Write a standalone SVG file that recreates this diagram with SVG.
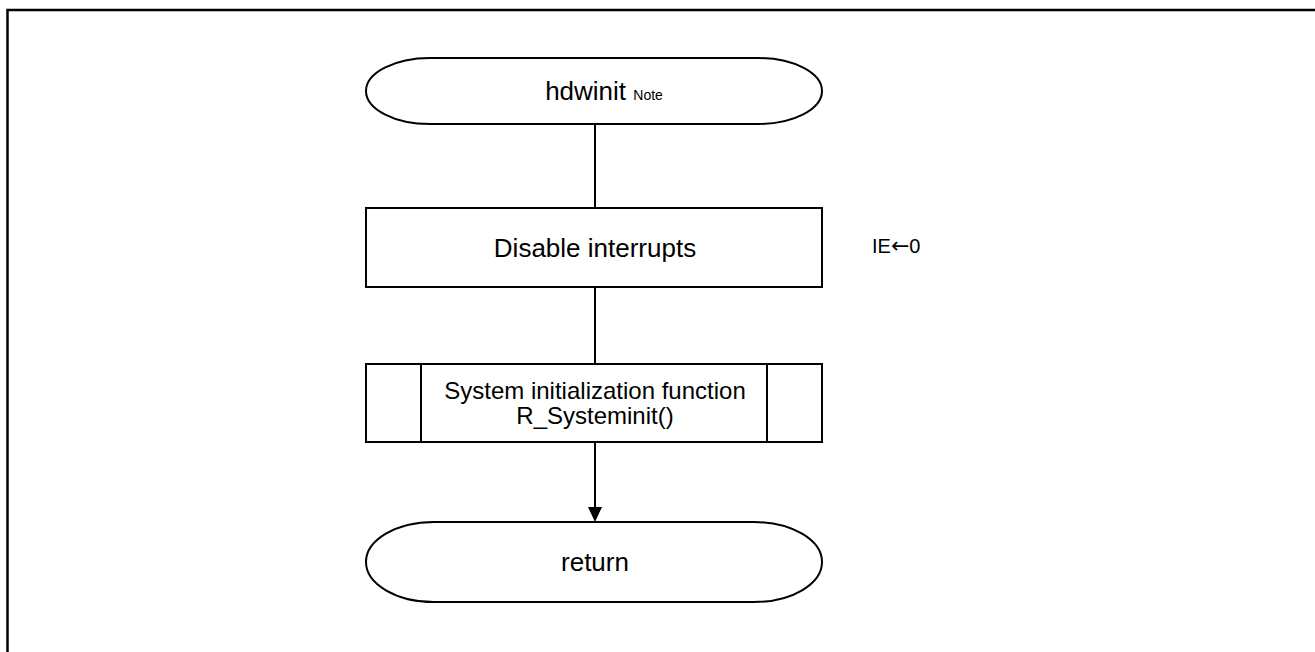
<svg xmlns="http://www.w3.org/2000/svg" width="1315" height="652" viewBox="0 0 1315 652">
<defs>
<style>
.shape{fill:#fff;stroke:#000;stroke-width:2}
.conn{fill:none;stroke:#000;stroke-width:2}
.t{font-family:"Liberation Sans",Arial,sans-serif;fill:#000;text-anchor:middle}
</style>
</defs>
<rect width="1315" height="652" fill="#fff"/>
<path d="M7.5,652 V10 H1315" fill="none" stroke="#000" stroke-width="2.5"/>
<g id="connectors">
<line class="conn" x1="595" y1="124" x2="595" y2="208"/>
<line class="conn" x1="595" y1="287" x2="595" y2="364"/>
<path class="conn" d="M595,442 V512"/>
<path d="M588,507 L602,507 L595,522 Z" fill="#000"/>
</g>
<g id="start">
<rect class="shape" x="366" y="58" width="456" height="66" rx="64" ry="33"/>
<text class="t" x="604" y="100" font-size="26">hdwinit <tspan font-size="14">Note</tspan></text>
</g>
<g id="disable">
<rect class="shape" x="366" y="208" width="456" height="79"/>
<text class="t" x="595" y="257" font-size="26">Disable interrupts</text>
</g>
<g id="ie-note">
<text x="872" y="253" font-family="'Liberation Sans',Arial,sans-serif" font-size="20">IE<tspan font-family="'DejaVu Sans',sans-serif" font-size="22">←</tspan>0</text>
</g>
<g id="sysinit">
<rect class="shape" x="366" y="364" width="456" height="78"/>
<line class="conn" x1="421" y1="364" x2="421" y2="442"/>
<line class="conn" x1="767" y1="364" x2="767" y2="442"/>
<text class="t" x="595" y="399" font-size="24">System initialization function</text>
<text class="t" x="595" y="424" font-size="24">R_Systeminit()</text>
</g>
<g id="return">
<rect class="shape" x="366" y="522" width="456" height="80" rx="68" ry="40"/>
<text class="t" x="595" y="571" font-size="26">return</text>
</g>
</svg>
